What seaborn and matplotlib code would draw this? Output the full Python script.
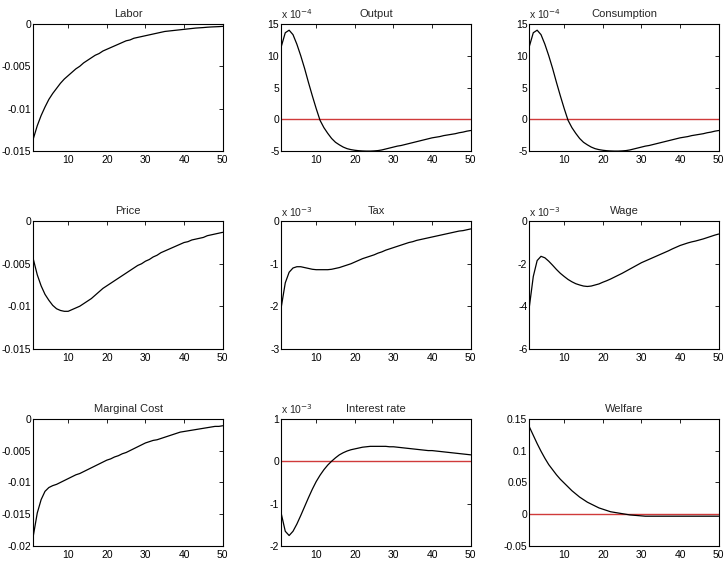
import numpy as np
import pandas as pd
import matplotlib
matplotlib.use("Agg")
import matplotlib.pyplot as plt
import seaborn as sns

# periods
periods = list(range(1, 51))

labor = [-0.0135, -0.0120, -0.0108, -0.0098, -0.0089, -0.0082, -0.0076, -0.0070, -0.0065, -0.0061,
         -0.0057, -0.0053, -0.0050, -0.0046, -0.0043, -0.0040, -0.0037, -0.0035, -0.0032, -0.0030,
         -0.0028, -0.0026, -0.0024, -0.0022, -0.0020, -0.0019, -0.0017, -0.0016, -0.0015, -0.0014,
         -0.0013, -0.0012, -0.0011, -0.0010, -0.0009, -0.00085, -0.0008, -0.00075, -0.0007, -0.00065,
         -0.0006, -0.00055, -0.0005, -0.00047, -0.00044, -0.0004, -0.00037, -0.00035, -0.00033, -0.0003]

# in units of 1e-4
output = [11.5, 13.6, 14.0, 13.3, 11.8, 10.0, 8.0, 5.8, 3.7, 1.7,
          -0.15, -1.3, -2.2, -3.0, -3.6, -4.0, -4.35, -4.6, -4.75, -4.85,
          -4.92, -4.96, -4.98, -4.98, -4.95, -4.9, -4.8, -4.65, -4.5, -4.35,
          -4.2, -4.1, -3.95, -3.8, -3.65, -3.5, -3.35, -3.2, -3.05, -2.9,
          -2.8, -2.7, -2.55, -2.45, -2.35, -2.25, -2.1, -2.0, -1.85, -1.75]

consumption = [11.5, 13.6, 14.0, 13.3, 11.8, 10.0, 8.0, 5.8, 3.7, 1.7,
               -0.15, -1.3, -2.2, -3.0, -3.6, -4.0, -4.35, -4.6, -4.75, -4.85,
               -4.92, -4.96, -4.98, -4.98, -4.95, -4.9, -4.8, -4.65, -4.5, -4.35,
               -4.2, -4.1, -3.95, -3.8, -3.65, -3.5, -3.35, -3.2, -3.05, -2.9,
               -2.8, -2.7, -2.55, -2.45, -2.35, -2.25, -2.1, -2.0, -1.85, -1.75]

price = [-0.0045, -0.0063, -0.0076, -0.0086, -0.0093, -0.0099, -0.0103, -0.0105, -0.0106, -0.0106,
         -0.0104, -0.0102, -0.0100, -0.0097, -0.0094, -0.0091, -0.0087, -0.0083, -0.0079, -0.0076,
         -0.0073, -0.0070, -0.0067, -0.0064, -0.0061, -0.0058, -0.0055, -0.0052, -0.0050, -0.0047,
         -0.0045, -0.0042, -0.0040, -0.0037, -0.0035, -0.0033, -0.0031, -0.0029, -0.0027, -0.0025,
         -0.0024, -0.0022, -0.0021, -0.0020, -0.0019, -0.0017, -0.0016, -0.0015, -0.0014, -0.0013]

# in units of 1e-3
tax = [-2.0, -1.45, -1.2, -1.1, -1.07, -1.07, -1.09, -1.11, -1.13, -1.14,
       -1.14, -1.14, -1.14, -1.13, -1.11, -1.09, -1.06, -1.03, -1.0, -0.96,
       -0.92, -0.88, -0.85, -0.82, -0.79, -0.75, -0.72, -0.68, -0.65, -0.62,
       -0.59, -0.56, -0.53, -0.5, -0.48, -0.45, -0.43, -0.41, -0.39, -0.37,
       -0.35, -0.33, -0.31, -0.29, -0.27, -0.25, -0.23, -0.22, -0.2, -0.18]

# in units of 1e-3
wage = [-4.0, -2.6, -1.85, -1.65, -1.72, -1.88, -2.07, -2.27, -2.45, -2.6,
        -2.74, -2.85, -2.94, -3.0, -3.05, -3.07, -3.05, -3.0, -2.95, -2.87,
        -2.8, -2.72, -2.63, -2.54, -2.45, -2.35, -2.25, -2.15, -2.05, -1.95,
        -1.87, -1.79, -1.71, -1.63, -1.55, -1.47, -1.39, -1.3, -1.22, -1.14,
        -1.08, -1.02, -0.97, -0.93, -0.88, -0.83, -0.77, -0.71, -0.65, -0.6]

marginal_cost = [-0.0183, -0.0148, -0.0127, -0.0114, -0.0108, -0.0105, -0.0103, -0.0100, -0.0097, -0.0094,
                 -0.0091, -0.0088, -0.0086, -0.0083, -0.0080, -0.0077, -0.0074, -0.0071, -0.0068, -0.0065,
                 -0.0063, -0.0060, -0.0058, -0.0055, -0.0053, -0.0050, -0.0047, -0.0044, -0.0041, -0.0038,
                 -0.0036, -0.0034, -0.0033, -0.0031, -0.0029, -0.0027, -0.0025, -0.0023, -0.0021, -0.0020,
                 -0.0019, -0.0018, -0.0017, -0.0016, -0.0015, -0.0014, -0.0013, -0.0012, -0.0012, -0.0011]

# in units of 1e-3
interest_rate = [-1.25, -1.65, -1.75, -1.65, -1.48, -1.28, -1.07, -0.86, -0.66, -0.48,
                 -0.33, -0.2, -0.09, 0.0, 0.08, 0.15, 0.2, 0.24, 0.27, 0.29,
                 0.31, 0.33, 0.34, 0.35, 0.35, 0.35, 0.35, 0.35, 0.34, 0.34,
                 0.33, 0.32, 0.31, 0.3, 0.29, 0.28, 0.27, 0.26, 0.25, 0.25,
                 0.24, 0.23, 0.22, 0.21, 0.2, 0.19, 0.18, 0.17, 0.16, 0.15]

welfare = [0.137, 0.124, 0.111, 0.099, 0.088, 0.078, 0.070, 0.062, 0.055, 0.049,
           0.043, 0.037, 0.032, 0.027, 0.023, 0.019, 0.016, 0.013, 0.010, 0.008,
           0.006, 0.004, 0.003, 0.002, 0.001, 0.0, -0.001, -0.0015, -0.002, -0.0025,
           -0.003, -0.003, -0.003, -0.003, -0.003, -0.003, -0.003, -0.003, -0.003, -0.003,
           -0.003, -0.003, -0.003, -0.003, -0.003, -0.003, -0.003, -0.003, -0.003, -0.003]

titles = ["Labor", "Output", "Consumption", "Price", "Tax", "Wage",
          "Marginal Cost", "Interest rate", "Welfare"]
series = [labor, output, consumption, price, tax, wage, marginal_cost, interest_rate, welfare]
exponents = [None, -4, -4, None, -3, -3, None, -3, None]
ylims = [(-0.015, 0), (-5, 15), (-5, 15), (-0.015, 0), (-3, 0), (-6, 0),
         (-0.02, 0), (-2, 1), (-0.05, 0.15)]
yticks = [[-0.015, -0.01, -0.005, 0], [-5, 0, 5, 10, 15], [-5, 0, 5, 10, 15],
          [-0.015, -0.01, -0.005, 0], [-3, -2, -1, 0], [-6, -4, -2, 0],
          [-0.02, -0.015, -0.01, -0.005, 0], [-2, -1, 0, 1], [-0.05, 0, 0.05, 0.1, 0.15]]
zero_line = [False, True, True, False, False, False, False, True, True]
xticks = [10, 20, 30, 40, 50]

sns.set_theme(style="white")
plt.rcParams["font.family"] = ["Liberation Sans", "DejaVu Sans"]
plt.rcParams.update({
    "xtick.direction": "in", "ytick.direction": "in",
    "xtick.top": True, "ytick.right": True,
    "xtick.major.size": 3, "ytick.major.size": 3,
    "xtick.major.width": 0.6, "ytick.major.width": 0.6,
    "xtick.major.pad": 3, "ytick.major.pad": 1.5,
    "xtick.color": "black", "ytick.color": "black",
    "axes.edgecolor": "black", "axes.linewidth": 0.8,
})

fig, axes = plt.subplots(3, 3, figsize=(7.26, 5.81), dpi=100)
fig.subplots_adjust(left=0.046, right=0.99, bottom=0.06, top=0.959, wspace=0.31, hspace=0.55)

for ax, title, vals, exp, yl, yt, zl in zip(axes.flat, titles, series, exponents,
                                           ylims, yticks, zero_line):
    df = pd.DataFrame({"period": periods, "value": vals})
    if zl:
        ax.axhline(0, color="#d03a3a", lw=1.0, zorder=1)
    sns.lineplot(data=df, x="period", y="value", ax=ax, color="black", lw=0.9, zorder=2)
    ax.set_xlim(1, 50)
    ax.set_ylim(*yl)
    ax.set_xticks(xticks)
    ax.set_yticks(yt)
    ax.set_yticklabels(["%g" % v for v in yt])
    ax.tick_params(labelsize=7.5, colors="black")
    ax.set_xlabel("")
    ax.set_ylabel("")
    ax.set_title(title, fontsize=8, pad=5)
    if exp is not None:
        ax.text(0.0, 1.02, r"x 10$^{%d}$" % exp, transform=ax.transAxes,
                fontsize=7.5, ha="left", va="bottom")

fig.savefig("out.png", dpi=100)
